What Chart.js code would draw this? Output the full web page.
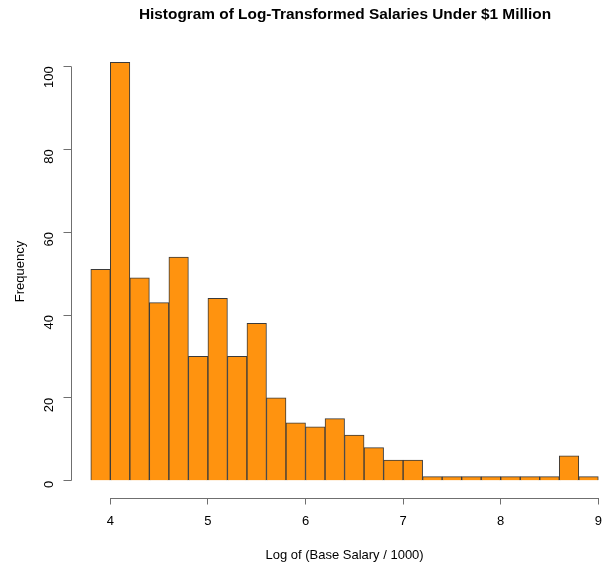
<!DOCTYPE html>
<html>
<head>
<meta charset="utf-8">
<script src="https://cdn.jsdelivr.net/npm/chart.js@4/dist/chart.umd.min.js"></script>
<style>
  html, body { margin: 0; padding: 0; background: #fff; overflow: hidden; }
  #wrap { width: 603px; height: 563px; overflow: hidden; }
  #c { display: block; }
</style>
</head>
<body>
<div id="wrap"><canvas id="c" width="690" height="563"></canvas></div>
<script>
// Histogram bins: width 0.2, from 3.8 to 9.0 on the log scale
const binStart = 3.8;
const binWidth = 0.2;
const counts = [51, 101, 49, 43, 54, 30, 44, 30, 38, 20, 14, 13, 15, 11, 8, 5, 5, 1, 1, 1, 1, 1, 1, 1, 6, 1];
const xTicks = [4, 5, 6, 7, 8, 9];
const yTicks = [0, 20, 40, 60, 80, 100];

const titleText = 'Histogram of Log-Transformed Salaries Under $1 Million';
const xTitle = 'Log of (Base Salary / 1000)';
const yTitle = 'Frequency';

const points = counts.map((c, i) => ({ x: +(binStart + binWidth * (i + 0.5)).toFixed(2), y: c }));

const axisColor = '#6f6f6f';
const fontFamily = '"Liberation Sans", Arial, Helvetica, sans-serif';

// Draws R-style axis lines spanning only the first to last tick
const axisLines = {
  id: 'axisLines',
  afterDraw(chart) {
    const ctx = chart.ctx;
    const xs = chart.scales.x, ys = chart.scales.y;
    ctx.save();
    ctx.strokeStyle = axisColor;
    ctx.lineWidth = 1;
    ctx.beginPath();
    const yb = Math.round(xs.top) + 0.5;
    ctx.moveTo(xs.getPixelForValue(xTicks[0]), yb);
    ctx.lineTo(xs.getPixelForValue(xTicks[xTicks.length - 1]), yb);
    const xl = Math.round(ys.right) + 0.5;
    ctx.moveTo(xl, ys.getPixelForValue(yTicks[0]));
    ctx.lineTo(xl, ys.getPixelForValue(yTicks[yTicks.length - 1]));
    ctx.stroke();
    ctx.restore();
  }
};

new Chart(document.getElementById('c'), {
  type: 'bar',
  data: {
    datasets: [{
      data: points,
      backgroundColor: '#FF930F',
      borderColor: '#3a3a3a',
      borderWidth: 1,
      barPercentage: 1,
      categoryPercentage: 1
    }]
  },
  options: {
    responsive: false,
    animation: false,
    devicePixelRatio: 1,
    layout: { padding: 0 },
    plugins: {
      legend: { display: false },
      tooltip: { enabled: false },
      title: {
        display: true,
        text: titleText,
        color: '#000',
        font: { family: fontFamily, size: 15.4, weight: 'bold' },
        padding: { top: 6, bottom: 21 }
      }
    },
    scales: {
      x: {
        type: 'linear',
        min: 3.592,
        max: 9.208,
        offset: false,
        afterBuildTicks(s) { s.ticks = xTicks.map(v => ({ value: v })); },
        afterFit(s) { s.height = 65.5; },
        grid: { display: true, drawOnChartArea: false, drawTicks: true, tickLength: 7, color: axisColor, offset: false },
        border: { display: false },
        ticks: {
          color: '#000',
          font: { family: fontFamily, size: 13 },
          padding: 9,
          maxRotation: 0,
          autoSkip: false
        },
        title: {
          display: true,
          text: xTitle,
          color: '#000',
          font: { family: fontFamily, size: 13 },
          padding: { top: 3, bottom: 0 }
        }
      },
      y: {
        type: 'linear',
        min: -4.04,
        max: 105.04,
        afterBuildTicks(s) { s.ticks = yTicks.map(v => ({ value: v })); },
        afterFit(s) { s.width = 70.5; },
        grid: { display: true, drawOnChartArea: false, drawTicks: true, tickLength: 7, color: axisColor },
        border: { display: false },
        ticks: {
          color: '#000',
          font: { family: fontFamily, size: 13 },
          padding: 14,
          minRotation: 90,
          maxRotation: 90,
          autoSkip: false
        },
        title: {
          display: true,
          text: yTitle,
          color: '#000',
          font: { family: fontFamily, size: 13 },
          padding: { top: 13, bottom: 0 }
        }
      },
      // empty right-hand margin, mirroring the plot margins of the figure
      margin: {
        type: 'linear',
        position: 'right',
        display: true,
        afterFit(s) { s.width = 71.4; },
        grid: { display: false },
        border: { display: false },
        ticks: { display: false }
      }
    }
  },
  plugins: [axisLines]
});
</script>
</body>
</html>
